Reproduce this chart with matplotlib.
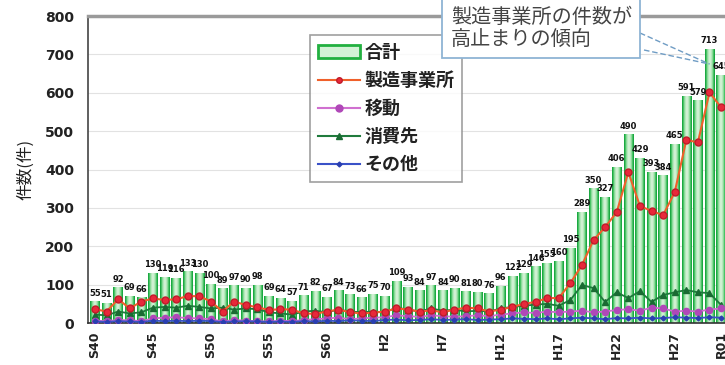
import numpy as np
import matplotlib
matplotlib.use("Agg")
import matplotlib.pyplot as plt
from matplotlib.colors import LinearSegmentedColormap
from matplotlib.patches import Patch, Rectangle
from matplotlib.lines import Line2D

plt.rcParams['font.family'] = ['Noto Sans CJK JP', 'DejaVu Sans']

# 年次 (S40 = 1965 ... R01 = 2019)
years = np.arange(1965, 2020)
total = [55, 51, 92, 69, 66, 130, 119, 116, 133, 130,
         100, 89, 97, 90, 98, 69, 64, 57, 71, 82,
         67, 84, 73, 66, 75, 70, 109, 93, 84, 97,
         84, 90, 81, 80, 76, 96, 122, 129, 146, 155,
         160, 195, 289, 350, 327, 406, 490, 429, 393, 384,
         465, 591, 579, 713, 645]
seizo = [36, 30, 62, 38, 56, 64, 60, 62, 70, 70,
         56, 30, 56, 47, 41, 34, 36, 35, 25, 24,
         30, 35, 28, 25, 27, 30, 38, 35, 30, 33,
         28, 35, 40, 38, 30, 35, 42, 50, 55, 65,
         65, 104, 151, 216, 250, 289, 393, 305, 292, 281,
         341, 477, 471, 601, 562]
idou = [6, 5, 8, 7, 5, 12, 14, 15, 13, 12,
        10, 4, 8, 6, 5, 4, 6, 5, 8, 10,
        12, 14, 10, 12, 14, 15, 20, 18, 16, 20,
        18, 16, 18, 20, 18, 22, 25, 28, 26, 30,
        28, 30, 32, 28, 30, 34, 36, 32, 40, 38,
        30, 32, 30, 35, 38]
shohi = [22, 20, 30, 25, 28, 40, 42, 40, 45, 42,
         38, 40, 35, 38, 36, 28, 25, 22, 30, 32,
         28, 35, 30, 28, 30, 28, 40, 35, 30, 38,
         32, 35, 30, 32, 30, 38, 42, 45, 48, 50,
         45, 60, 99, 91, 55, 80, 65, 83, 55, 73,
         80, 86, 80, 78, 47]
sonota = [4, 3, 5, 4, 3, 6, 5, 6, 5, 6,
          5, 3, 4, 5, 4, 3, 4, 3, 5, 4,
          6, 5, 7, 6, 5, 8, 9, 7, 8, 10,
          8, 9, 10, 8, 9, 10, 12, 11, 10, 12,
          10, 12, 14, 12, 10, 13, 12, 14, 12, 13,
          15, 14, 13, 15, 14]
tick_years = [1965, 1970, 1975, 1980, 1985, 1990, 1995, 2000, 2005, 2010, 2015, 2019]
tick_labels = ['S40', 'S45', 'S50', 'S55', 'S60', 'H2', 'H7', 'H12', 'H17', 'H22', 'H27', 'R01']

fig = plt.figure(figsize=(7.25, 3.65), dpi=100)
ax = fig.add_axes([0.1214, 0.115, 0.8828, 0.841])

# 合計: グラデーションの棒
bars = ax.bar(years, total, width=0.82, color='none', edgecolor='none', zorder=2)
prof = 1 - np.abs(np.linspace(-1, 1, 64)) ** 1.6
cmap = LinearSegmentedColormap.from_list('gbar', ['#0f9a36', '#2fbb52', '#8fdc9c', '#d6f3d8'])
for b in bars:
    x0, w, h = b.get_x(), b.get_width(), b.get_height()
    ax.imshow(prof[np.newaxis, :], extent=[x0, x0 + w, 0, h], aspect='auto',
              cmap=cmap, vmin=0, vmax=1, zorder=2, interpolation='bilinear')
for yr, v in zip(years, total):
    ax.annotate(str(v), (yr, v), xytext=(0, 3), textcoords='offset points',
                ha='center', va='bottom', fontsize=6, fontweight='bold',
                color='#111111', zorder=6, family=['DejaVu Sans'])

ax.plot(years, shohi, color='#1f7a3c', lw=1.3, marker='^', ms=4,
        mfc='#1a6b33', mec='#1a6b33', zorder=4)
ax.plot(years, idou, color='#d070d0', lw=1.3, marker='o', ms=4.5,
        mfc='#b048b8', mec='#b048b8', zorder=4)
ax.plot(years, sonota, color='#3a52c8', lw=1.3, marker='D', ms=2.5,
        mfc='#2a3fb0', mec='#2a3fb0', zorder=4)
ax.plot(years, seizo, color='#f0602a', lw=1.5, marker='o', ms=5,
        mfc='#e8283a', mec='#c01c2a', zorder=5)

ax.set_xlim(1964.4, 2019.6)
ax.set_ylim(0, 800)
ax.set_yticks(range(0, 801, 100))
ax.set_yticklabels([str(v) for v in range(0, 801, 100)], fontsize=10,
                   fontweight='bold', family=['DejaVu Sans'], color='#222222')
ax.set_xticks(tick_years)
ax.set_xticklabels(tick_labels, rotation=90, fontsize=9, fontweight='bold',
                   family=['DejaVu Sans'], color='#222222')
ax.tick_params(axis='x', length=0, pad=6)
ax.tick_params(axis='y', length=0, pad=10)
ax.grid(axis='y', color='#e2e2e2', lw=0.8, zorder=0)
ax.set_axisbelow(True)
ax.spines['right'].set_visible(False)
ax.spines['top'].set_color('#9a9a9a')
ax.spines['top'].set_linewidth(2.5)
ax.spines['left'].set_color('#444444')
ax.spines['left'].set_linewidth(1.2)
ax.spines['bottom'].set_color('#333333')
ax.spines['bottom'].set_linewidth(1.2)
ax.set_ylabel('件数(件)', fontsize=12, labelpad=8, color='#222222')

handles = [Patch(facecolor='#d4f2d6', edgecolor='#22b040', lw=2),
           Line2D([], [], color='#f0602a', marker='o', ms=4, mfc='#e8283a', mec='#c01c2a'),
           Line2D([], [], color='#d070d0', marker='o', ms=5, mfc='#b048b8', mec='#b048b8'),
           Line2D([], [], color='#1f7a3c', marker='^', ms=4, mfc='#1a6b33', mec='#1a6b33'),
           Line2D([], [], color='#3a52c8', marker='D', ms=2.5, mfc='#2a3fb0', mec='#2a3fb0')]
labels = ['合計', '製造事業所', '移動', '消費先', 'その他']
leg = fig.legend(handles, labels, loc='upper left', bbox_to_anchor=(310 / 725, 1 - 35 / 365),
                 bbox_transform=fig.transFigure, frameon=True, fancybox=False,
                 edgecolor='#888888', handlelength=2.3, handletextpad=0.25,
                 labelspacing=0.5, borderpad=0.45, borderaxespad=0,
                 prop={'weight': 'bold', 'size': 13})
leg.get_frame().set_linewidth(1.2)
for t in leg.get_texts():
    t.set_color('#222222')

# 吹き出し
tip = ax.transData.transform((2018, total[-2] - 38))
tip = fig.transFigure.inverted().transform(tip)
for (bx, by) in [(640 / 725, 1 - 33 / 365), (644 / 725, 1 - 50 / 365)]:
    fig.add_artist(Line2D([bx, tip[0]], [by, tip[1]], color='#6f9cc4', lw=1,
                          ls=(0, (4, 2)), transform=fig.transFigure, zorder=7))
fig.add_artist(Rectangle((442 / 725, 1 - 58 / 365), 198 / 725, 0.2, transform=fig.transFigure,
                         facecolor='white', edgecolor='#8fb4d4', lw=1.3, zorder=8))
fig.text(451 / 725, 1 - 17 / 365, '製造事業所の件数が', fontsize=14.5, color='#444444',
         va='center', ha='left', zorder=9)
fig.text(451 / 725, 1 - 40 / 365, '高止まりの傾向', fontsize=14.5, color='#444444',
         va='center', ha='left', zorder=9)

fig.savefig('out.png', dpi=100)
